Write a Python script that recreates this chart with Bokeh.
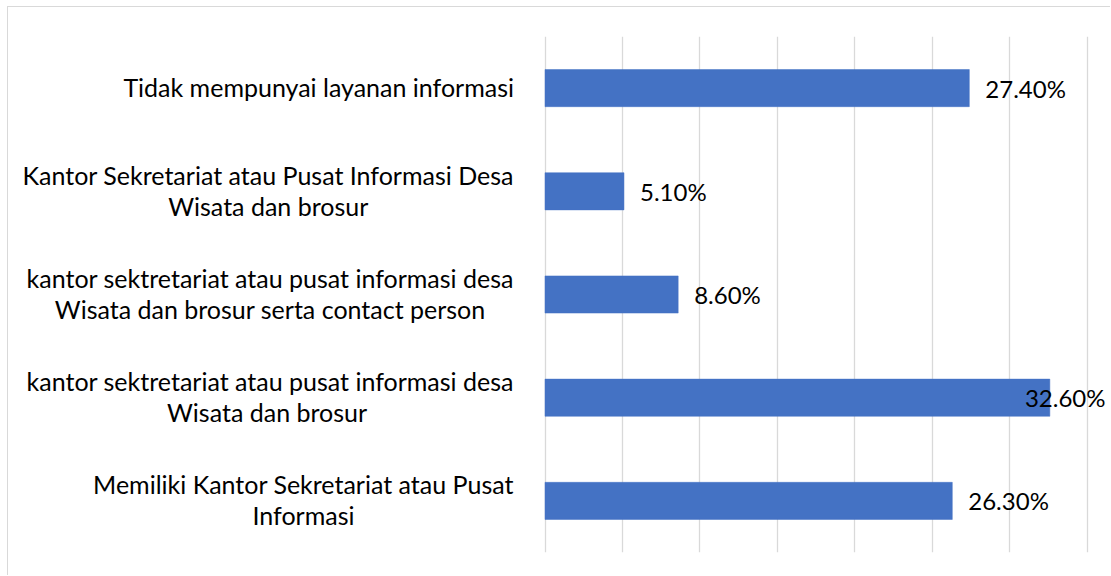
from bokeh.plotting import figure
from bokeh.models import ColumnDataSource, FixedTicker, Range1d, FactorRange
from bokeh.core.properties import value
from bokeh.embed import file_html
from bokeh.resources import INLINE

# ---- data ----
categories = [
    "Tidak mempunyai layanan informasi",
    "Kantor Sekretariat atau Pusat Informasi Desa\nWisata dan brosur",
    "kantor sektretariat atau pusat informasi desa\nWisata dan brosur serta contact person",
    "kantor sektretariat atau pusat informasi desa\nWisata dan brosur ",
    "Memiliki Kantor Sekretariat atau Pusat\nInformasi",
]
values = [27.4, 5.1, 8.6, 32.6, 26.3]
value_labels = ["27.40%", "5.10%", "8.60%", "32.60%", "26.30%"]
x_ticks = [0, 5, 10, 15, 20, 25, 30, 35]

# ---- style ----
FONT = "Lato"
CAT_FSIZE = "25px"
VAL_FSIZE = "24px"
W, H = 1103, 569
ZERO_PX = 536.5          # pixel of x=0 inside the figure
RIGHT_PX = 1097          # right limit for value labels
PX_PER_UNIT = 15.486
TOP, FRAME_BOTTOM = 29, 545
BAR_COLOR = "#4472C4"
GRID_COLOR = "#D9D9D9"

x_start = -ZERO_PX / PX_PER_UNIT
x_end = (W - ZERO_PX) / PX_PER_UNIT
label_limit = (RIGHT_PX - ZERO_PX) / PX_PER_UNIT

y_factors = list(reversed(categories))

p = figure(
    width=W, height=H, output_backend="svg", toolbar_location=None,
    x_range=Range1d(x_start, x_end), y_range=FactorRange(*y_factors, range_padding=0),
    min_border_left=0, min_border_right=0, min_border_top=TOP,
    min_border_bottom=H - FRAME_BOTTOM,
    styles={"margin": "6px 0 0 7px",
            "border-top": "1px solid #D9D9D9", "border-left": "1px solid #D9D9D9"},
)
p.outline_line_color = None
p.background_fill_color = "white"
p.border_fill_color = "white"
p.xaxis.visible = False
p.yaxis.visible = False
p.ygrid.grid_line_color = None
p.xgrid.ticker = FixedTicker(ticks=x_ticks)
p.xgrid.grid_line_color = GRID_COLOR
p.xgrid.grid_line_width = 1.3

OFFSET_PX = 16
LABEL_PX = 80
xs, offs, aligns = [], [], []
for v in values:
    if v + (OFFSET_PX + LABEL_PX) / PX_PER_UNIT <= label_limit:
        xs.append(v); offs.append(OFFSET_PX); aligns.append("left")
    else:
        xs.append(label_limit); offs.append(0); aligns.append("right")

src = ColumnDataSource(dict(cat=categories, val=values, lab=value_labels,
                            lx=xs, off=offs, al=aligns, zero=[0] * len(values)))

p.hbar(y="cat", left=0, right="val", height=0.36, source=src,
       fill_color=BAR_COLOR, line_color=BAR_COLOR, line_width=0.5)

p.text(x="lx", y="cat", text="lab", x_offset="off", text_align="al", source=src,
       text_baseline="middle", text_font=value(FONT), text_font_size=VAL_FSIZE,
       text_color="#000000")

# category labels, block right-aligned, lines centred
p.text(x="zero", y="cat", text="cat", x_offset=-31, y_offset=-1, source=src,
       anchor="center_right", text_align="center", text_baseline="middle",
       text_font=value(FONT), text_font_size=CAT_FSIZE, text_color="#000000",
       text_line_height=1.04)

open("out.html", "w").write(file_html(p, INLINE))
